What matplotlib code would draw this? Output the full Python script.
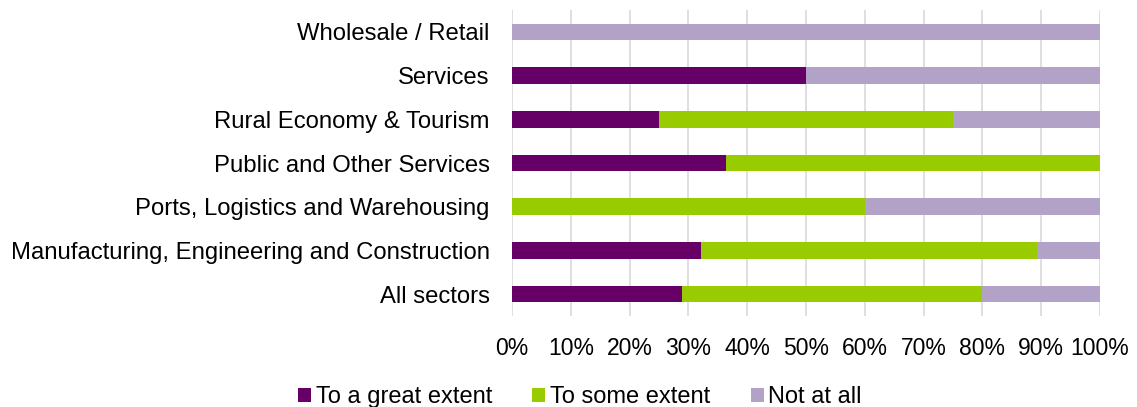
import matplotlib.pyplot as plt
import numpy as np

plt.rcParams['font.family'] = ['Liberation Sans', 'DejaVu Sans']

sectors = ["All sectors", "Manufacturing, Engineering and Construction",
           "Ports, Logistics and Warehousing", "Public and Other Services",
           "Rural Economy & Tourism", "Services", "Wholesale / Retail"]
great = [28.9, 32.1, 0.0, 36.4, 25.0, 50.0, 0.0]
some = [51.1, 57.2, 60.0, 63.6, 50.0, 0.0, 0.0]
not_at_all = [20.0, 10.7, 40.0, 0.0, 25.0, 50.0, 100.0]

series = [("To a great extent", great, "#660066"),
          ("To some extent", some, "#99CC00"),
          ("Not at all", not_at_all, "#B3A2C7")]

fig = plt.figure(figsize=(11.37, 4.07), dpi=100)
ax = fig.add_axes([512 / 1137, 1 - 316 / 407, 588 / 1137, 306 / 407])

y = np.arange(len(sectors))
left = np.zeros(len(sectors))
for name, vals, col in series:
    ax.barh(y, vals, left=left, height=0.38, color=col, label=name, zorder=3)
    left += np.array(vals)

ax.set_xlim(0, 100)
ax.set_ylim(-0.5, len(sectors) - 0.5)
ax.set_xticks(np.arange(0, 101, 10))
ax.set_xticklabels([f"{v}%" for v in range(0, 101, 10)])
ax.set_yticks(y)
ax.set_yticklabels(sectors)
ax.tick_params(axis='both', length=0, colors='black')
ax.tick_params(axis='x', pad=15, labelsize=16.5)
ax.tick_params(axis='y', pad=16, labelsize=17.2)
ax.grid(axis='x', color='#d9d9d9', linewidth=1.2, zorder=0)
for s in ax.spines.values():
    s.set_visible(False)

ax.legend(loc='center', bbox_to_anchor=(580 / 1137, 1 - 397 / 407),
          bbox_transform=fig.transFigure, ncol=3, frameon=False,
          fontsize=17, handlelength=0.55, handleheight=0.55,
          handletextpad=0.2, columnspacing=1.7)

fig.savefig("out.png", dpi=100)
